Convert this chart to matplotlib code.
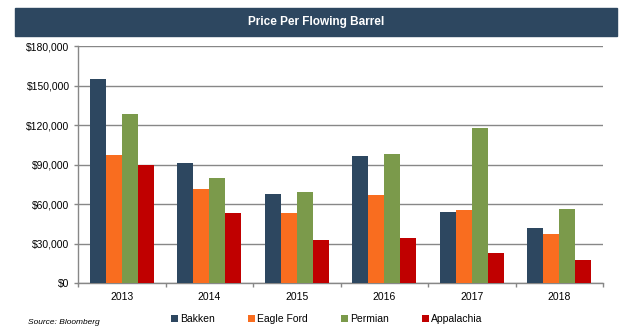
import numpy as np
import matplotlib.pyplot as plt
from matplotlib.ticker import FuncFormatter, FixedLocator

plt.rcParams['font.family'] = ['Liberation Sans', 'DejaVu Sans']

years = ["2013", "2014", "2015", "2016", "2017", "2018"]
bakken = [155000, 91300, 67800, 96600, 54100, 42000]
eagle_ford = [97400, 71500, 53300, 67000, 55600, 37400]
permian = [128400, 79900, 69300, 98100, 117800, 56400]
appalachia = [89800, 53300, 32900, 34400, 23000, 17700]

series = [("Bakken", bakken, "#2D4760"),
          ("Eagle Ford", eagle_ford, "#F96D1F"),
          ("Permian", permian, "#7B9A4B"),
          ("Appalachia", appalachia, "#C00000")]

fig = plt.figure(figsize=(6.34, 3.32), dpi=100)
ax = fig.add_axes([78/634, 1-283.3/332, 525/634, 237/332])

# title bar
fig.patches.append(plt.Rectangle((15/634, 1-35.7/332), 602/634, 27.7/332,
                                 transform=fig.transFigure, color="#2D4760", zorder=0))
fig.text(316/634, 1-22/332, "Price Per Flowing Barrel", color="white",
         fontsize=8.5, fontweight="bold", ha="center", va="center")

x = np.arange(len(years))
w = 0.183
for i, (name, vals, col) in enumerate(series):
    ax.bar(x + (i - 1.5) * w, vals, w, color=col, label=name, zorder=3)

ax.set_xlim(-0.5, len(years) - 0.5)
ax.set_ylim(0, 180000)
ax.set_yticks(np.arange(0, 180001, 30000))
ax.yaxis.set_major_formatter(FuncFormatter(lambda v, p: f"${v:,.0f}"))
ax.set_xticks(x)
ax.set_xticklabels(years)
ax.xaxis.set_minor_locator(FixedLocator(np.arange(-0.5, len(years), 1)))
ax.tick_params(axis="x", which="major", length=0, pad=6, labelsize=7.5)
ax.tick_params(axis="x", which="minor", length=3, color="#878787", width=1)
ax.tick_params(axis="y", length=3, color="#878787", width=1, labelsize=7.5, pad=3)

ax.grid(axis="y", color="#878787", lw=1, zorder=1)
for s in ["top", "right"]:
    ax.spines[s].set_visible(False)
for s in ["left", "bottom"]:
    ax.spines[s].set_color("#878787")
    ax.spines[s].set_linewidth(1)

fig.legend(loc="center", bbox_to_anchor=(327/634, 1-319/332), ncol=4, frameon=False,
           fontsize=7.5, handlelength=0.6, handleheight=0.6, handletextpad=0.25,
           columnspacing=3.2, borderpad=0)
fig.text(28/634, 1-323/332, "Source: Bloomberg", fontsize=6, style="italic",
         ha="left", va="center")

fig.savefig("out.png", dpi=100)
